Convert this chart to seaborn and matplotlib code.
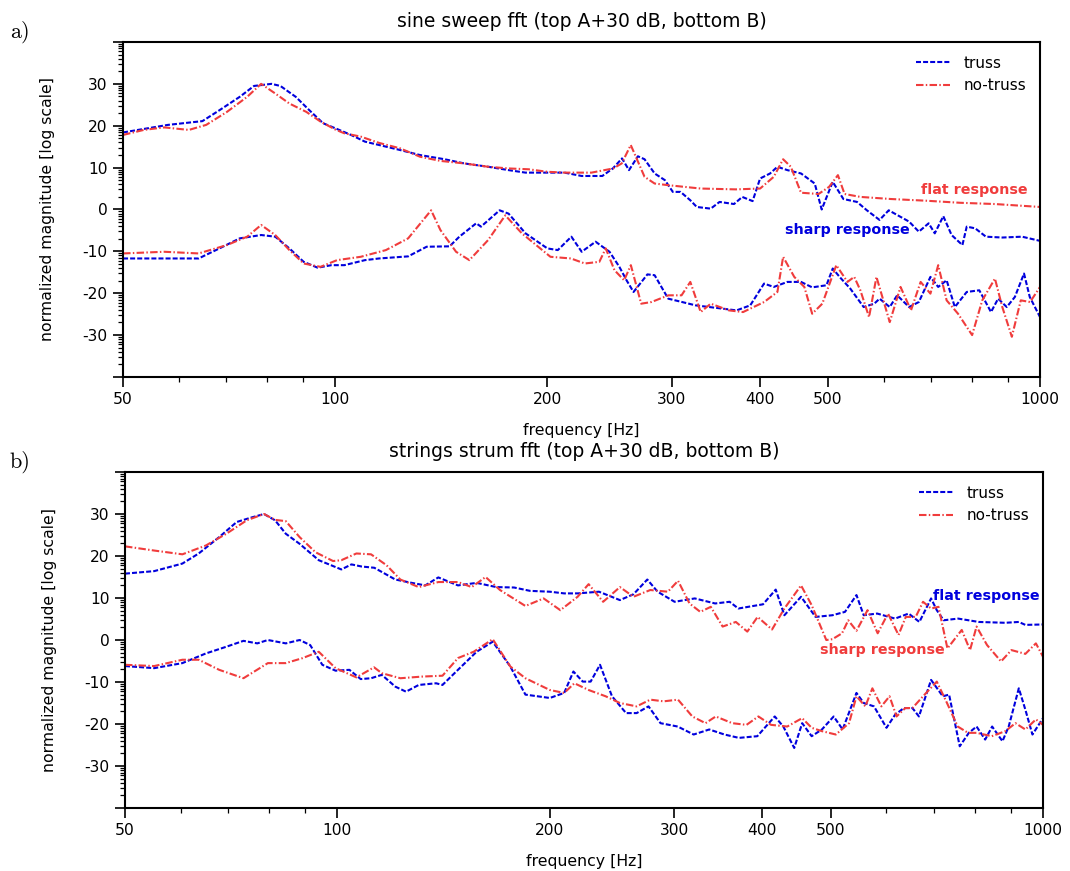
import numpy as np
import matplotlib
matplotlib.use('Agg')
import matplotlib.pyplot as plt
from matplotlib.ticker import FixedLocator, NullFormatter
import seaborn as sns

# ---- data (frequency in Hz, magnitude in dB) ----
# a) sine sweep, top curves (A + 30 dB)
a_truss_top_f = [50, 57.9, 64.8, 68.5, 73.2, 76.7, 81.2, 83.6, 87.9, 91.9, 96.1, 100, 105.3, 110.2, 115.4,
                 123.6, 131.9, 142.9, 152.4, 164.8, 176.2, 186.2, 200, 211.5, 223.7, 239.3, 247.7, 255.2,
                 261.1, 268.8, 274.7, 283.9, 293.6, 301.3, 309, 319, 325.8, 341, 351, 368, 378, 391, 400.7,
                 414, 424, 438, 458, 479, 490, 508, 526, 550, 568, 592, 610, 652, 673, 695, 709, 729, 749,
                 776, 787, 809, 838, 884, 943, 1000]
a_truss_top_db = [18.4, 20.2, 21.1, 23.7, 26.9, 29.5, 30.0, 29.5, 26.9, 23.7, 20.6, 19.4, 17.8, 16.2, 15.4,
                  14.2, 13.0, 12.0, 11.0, 10.2, 9.4, 8.8, 8.8, 8.8, 8.0, 8.0, 9.8, 12.2, 9.4, 12.7, 12.0,
                  8.6, 7.0, 4.2, 4.2, 2.2, 0.6, 0.2, 1.8, 1.3, 3.0, 2.0, 7.4, 8.6, 10.2, 9.4, 8.6, 6.2, 0.0,
                  6.6, 2.5, 1.8, -0.2, -2.5, -0.2, -2.9, -5.3, -3.3, -5.7, -1.6, -6.1, -8.5, -4.1, -4.5,
                  -6.5, -6.7, -6.5, -7.5]
a_notruss_top_f = [50, 53.5, 57.2, 62.0, 65.6, 70.2, 75.0, 78.5, 82.2, 86.1, 91.0, 95.3, 100, 103, 108.7,
                   115.4, 123.6, 131.9, 141, 152.4, 164.8, 176.2, 188, 200, 211.5, 231, 248, 255, 262.6,
                   274.7, 283.9, 296.8, 330, 370, 400.7, 419, 432, 443, 458, 485, 502, 516.7, 528, 556,
                   614, 688, 770, 863, 1000]
a_notruss_top_db = [17.8, 19.0, 19.6, 19.0, 20.2, 23.3, 26.9, 30.0, 27.7, 25.3, 23.3, 21.0, 19.1, 18.2,
                    17.4, 15.9, 14.6, 12.6, 11.6, 11.0, 10.2, 9.8, 9.6, 9.0, 8.8, 8.8, 9.8, 11.0, 15.4,
                    7.8, 6.2, 5.8, 5.0, 4.8, 5.0, 7.8, 12.0, 10.2, 4.0, 3.7, 5.4, 8.2, 3.7, 3.0, 2.5, 2.1,
                    1.6, 1.3, 0.6]
# a) sine sweep, bottom curves (B)
a_truss_bot_f = [50, 64, 68.5, 73.2, 78.5, 82.2, 86.1, 90.2, 94.4, 98.8, 103, 110.2, 115.4, 126.9, 134.8,
                 145.3, 150, 158.5, 161, 171.1, 176.2, 186.2, 200, 206.9, 216.3, 223.7, 234.1, 245, 253,
                 259, 265, 277.3, 283.9, 296.8, 310.5, 324.6, 339.5, 355.1, 371, 388, 405.9, 419, 438,
                 458, 475, 497.7, 508, 519.5, 538, 562, 581.8, 592, 612, 627, 652, 673, 699, 717, 737,
                 757, 787, 820, 852, 872, 897, 921, 949, 967, 1000]
a_truss_bot_db = [-11.7, -11.7, -9.3, -6.9, -6.1, -6.5, -9.3, -12.5, -13.9, -13.3, -13.3, -12.1, -11.7,
                  -11.2, -8.9, -8.8, -6.5, -3.3, -4.1, -0.2, -1.0, -5.7, -9.3, -9.7, -6.5, -10.1, -7.7,
                  -10.1, -13.7, -16.9, -19.7, -15.5, -15.7, -21.3, -22.1, -22.9, -23.3, -23.7, -24.1,
                  -22.9, -17.7, -18.5, -17.3, -17.3, -18.6, -18.1, -14.1, -16.1, -18.9, -23.3, -22.5,
                  -21.3, -23.3, -20.5, -23.3, -22.1, -16.1, -18.5, -16.9, -23.3, -19.7, -19.3, -24.5,
                  -21.3, -23.3, -20.9, -15.3, -20.9, -25.7]
a_notruss_bot_f = [50, 57.2, 64, 70.2, 75, 78.5, 82.2, 86.1, 90.2, 95.3, 100.6, 108.7, 118, 126.9, 136.8,
                   141, 148.4, 155, 164.8, 174.3, 184, 202, 216, 226, 237, 242, 249, 257, 262.7, 271.7,
                   281, 297, 310, 319, 330, 341, 362, 379, 406, 424, 432, 448, 463, 475, 491, 514, 533,
                   545, 556, 572, 586, 612, 634, 656, 677, 699, 717, 737, 765, 801, 828, 863, 884, 912,
                   939, 968, 1000]
a_notruss_bot_db = [-10.5, -10.1, -10.5, -8.5, -6.5, -3.7, -6.1, -9.7, -12.9, -13.7, -12.1, -11.3, -9.7,
                    -6.9, -0.2, -4.9, -10.1, -12.1, -7.3, -1.4, -5.7, -11.3, -11.7, -12.9, -12.5, -9.3,
                    -14.5, -16.9, -13.3, -22.5, -22.1, -20.5, -20.5, -17.3, -24.5, -22.5, -24.1, -24.5,
                    -22.1, -19.7, -11.3, -16.1, -18.5, -24.9, -22.5, -13.3, -17.3, -16.1, -19.3, -25.7,
                    -16.1, -26.9, -18.5, -24.1, -17.3, -20.1, -13.3, -21.7, -24.9, -30.0, -21.7, -16.5,
                    -23.3, -30.4, -21.7, -22.1, -18.5]

# b) strings strum, top curves (A + 30 dB)
b_truss_top_f = [50, 55, 60.3, 63.6, 68, 72, 75.3, 78.7, 81.6, 84.5, 88.4, 94.1, 101.3, 104.7, 108.2,
                 112.8, 120.8, 127.5, 133.2, 139, 148.2, 157.5, 168, 178, 187.5, 200, 209.6, 219.2, 234.8,
                 251.4, 262.8, 274.9, 284.3, 300.5, 321, 343, 359.6, 370, 401, 418, 430, 454, 476, 503,
                 524, 544, 557, 582, 617, 645, 668, 694, 707, 723, 758, 811, 884, 924, 944, 1000]
b_truss_top_db = [15.8, 16.4, 18.2, 20.6, 24.5, 28.1, 29.1, 30.0, 28.5, 25.3, 22.9, 19.0, 16.8, 18.0,
                  17.5, 17.2, 14.4, 13.6, 13.0, 14.9, 13.0, 13.6, 12.6, 12.5, 11.7, 11.5, 11.1, 11.1,
                  11.5, 9.5, 10.9, 14.4, 11.5, 9.1, 9.9, 8.7, 9.1, 7.5, 8.5, 12.0, 5.9, 10.3, 5.5, 5.9,
                  6.7, 10.7, 5.9, 6.3, 5.1, 6.3, 4.3, 9.9, 7.1, 4.7, 5.1, 4.3, 4.1, 4.3, 3.6, 3.7]
b_notruss_top_f = [50, 55, 60.3, 65.1, 69.6, 74.4, 78.7, 81.6, 84.5, 88.4, 93.1, 98.6, 101.3, 106.4,
                   111.6, 117.4, 122.8, 130.4, 139, 148.2, 155, 162.2, 170, 184.7, 196, 207, 219, 227,
                   238, 251.4, 262.8, 277.6, 294, 303.9, 315.5, 326.8, 338.2, 351.5, 367, 381, 394, 413,
                   430, 454, 470, 493, 503, 519, 529.6, 544, 564, 583, 603, 624, 639, 660, 676, 694, 711,
                   732, 767, 788, 805, 833, 872, 902, 944, 977, 1000]
b_notruss_top_db = [22.3, 21.3, 20.4, 22.5, 25.3, 28.5, 30.0, 28.6, 28.3, 24.5, 20.9, 18.8, 19.0, 20.6,
                    20.4, 17.8, 14.4, 12.6, 13.8, 13.8, 12.6, 15.0, 11.9, 8.1, 9.9, 7.1, 10.3, 13.3, 9.1,
                    12.6, 10.3, 11.9, 11.5, 14.1, 8.7, 6.7, 7.9, 3.2, 4.3, 2.0, 5.5, 2.5, 7.5, 13.0, 8.3,
                    0.0, 0.2, 1.6, 4.7, 2.2, 7.1, 1.6, 6.3, 1.2, 5.5, 5.5, 9.1, 7.5, 7.9, -2.0, 2.4, -2.4,
                    3.2, -1.2, -5.1, -2.4, -3.3, -0.8, -4.0]
# b) strings strum, bottom curves (B)
b_truss_bot_f = [50, 55, 60.3, 65.1, 69.6, 73.6, 77, 79.7, 84.5, 88.4, 91.5, 95.2, 99.4, 104, 107.9,
                 111.6, 115.6, 120.8, 125.1, 130.4, 138, 140.9, 148.2, 157.5, 166, 175.8, 184.7, 200,
                 209.6, 216, 222.7, 228.5, 235.6, 245, 256.5, 265.5, 276, 287, 303.6, 319.8, 336.5,
                 353.6, 370.7, 393.6, 416.7, 428.5, 444, 455.7, 470, 486, 505, 520, 544, 557, 576, 600,
                 617, 635, 653, 667, 694, 721, 736, 762, 785, 805, 828, 847, 876, 894, 924, 944, 966, 1000]
b_truss_bot_db = [-6.2, -6.7, -5.5, -3.2, -1.6, -0.2, -0.8, 0.0, -0.8, 0.0, -1.2, -5.9, -7.3, -7.1, -9.3,
                  -9.1, -8.3, -11.1, -12.3, -10.7, -10.3, -10.7, -7.1, -2.8, -0.4, -6.3, -13.0, -13.8,
                  -12.6, -7.5, -9.9, -9.9, -5.9, -13.4, -17.4, -17.4, -15.8, -19.8, -20.6, -22.5, -21.3,
                  -22.5, -23.3, -22.9, -18.2, -20.6, -25.7, -19.8, -22.9, -21.3, -18.2, -21.3, -12.6,
                  -15.0, -15.8, -20.9, -17.8, -16.2, -16.2, -18.2, -9.5, -13.4, -13.0, -25.3, -22.1,
                  -20.6, -23.7, -20.6, -24.1, -20.6, -11.5, -16.6, -22.5, -18.6]
b_notruss_bot_f = [50, 55, 60.3, 63.6, 68, 73.6, 79.7, 84.5, 89.3, 94.1, 99.4, 106.4, 112.7, 115.6,
                   122.8, 132, 140.9, 148.2, 156, 166, 175.8, 184.7, 200, 209.6, 216.7, 227, 240, 251.4,
                   265.5, 277.6, 290, 303.9, 318.4, 332.4, 343.7, 362.7, 380, 395, 411.7, 434, 455.7,
                   470, 486, 508.6, 531, 544, 560, 573, 590, 606, 620, 638, 653, 676, 707, 731, 757,
                   783, 805, 846, 884, 914, 944, 977, 1000]
b_notruss_bot_db = [-5.9, -6.2, -4.7, -4.7, -7.1, -9.1, -5.5, -5.5, -4.3, -2.8, -6.7, -8.9, -6.5, -7.9,
                    -9.1, -8.7, -8.5, -4.3, -2.8, 0.2, -6.3, -9.1, -11.9, -12.6, -10.3, -11.9, -13.4,
                    -15.0, -15.8, -14.2, -14.6, -14.2, -18.2, -19.8, -18.2, -19.8, -20.2, -18.2, -20.2,
                    -20.6, -18.6, -20.9, -21.7, -22.5, -19.8, -13.4, -15.8, -11.5, -15.8, -13.4, -18.2,
                    -16.2, -16.2, -13.4, -9.9, -15.0, -20.6, -22.1, -22.1, -22.9, -21.7, -19.8, -21.3,
                    -18.9, -20.2]

xticks_major = [50, 100, 200, 300, 400, 500, 1000]
xticks_minor = [60, 70, 80, 90, 600, 700, 800, 900]
yticks_major = [-40, -30, -20, -10, 0, 10, 20, 30, 40]

BLUE = '#0000dd'
RED = '#f03c3c'
DASH = (0, (2.4, 1.0))
DASHDOT = (0, (3.6, 1.1, 0.7, 1.1))

sns.set_style('ticks')
plt.rcParams['font.family'] = ['DejaVu Sans']
plt.rcParams['axes.unicode_minus'] = False
for key in ['text.color', 'axes.labelcolor', 'xtick.color', 'ytick.color', 'axes.edgecolor']:
    plt.rcParams[key] = 'black'


def draw_line(ax, f, db, color, ls, label=None):
    sns.lineplot(x=f, y=db, ax=ax, color=color, linestyle=ls, linewidth=1.5,
                 estimator=None, sort=False, label=label, legend=False)


def style_axes(ax, title):
    ax.set_xscale('log')
    ax.set_xlim(50, 1000)
    ax.set_ylim(-40, 40)
    ax.xaxis.set_major_locator(FixedLocator(xticks_major))
    ax.xaxis.set_minor_locator(FixedLocator(xticks_minor))
    ax.set_xticklabels([str(t) for t in xticks_major])
    ax.xaxis.set_minor_formatter(NullFormatter())
    ax.yaxis.set_major_locator(FixedLocator(yticks_major))
    ax.set_yticklabels(['' if abs(t) == 40 else str(t) for t in yticks_major])
    # log-like minor ticks inside every 10 dB step
    ymin = [b + 10 * np.log10(k) for b in range(-40, 40, 10) for k in range(2, 10)]
    ax.yaxis.set_minor_locator(FixedLocator(ymin))
    ax.tick_params(which='major', direction='out', length=7.5, width=1.2, labelsize=11.2, pad=3.5,
                   colors='black')
    ax.tick_params(which='minor', direction='out', length=3.5, width=0.9, colors='black')
    for sp in ax.spines.values():
        sp.set_visible(True)
        sp.set_linewidth(1.5)
        sp.set_color('black')
    ax.set_xlabel('frequency [Hz]', fontsize=11.3, labelpad=11, color='black')
    ax.set_ylabel('normalized magnitude [log scale]', fontsize=11.3, labelpad=20, color='black')
    ax.set_title(title, fontsize=13.5, pad=11, color='black')
    ax.grid(False)
    ax.legend(handles=ax.lines[:2], labels=['truss', 'no-truss'], loc='upper right',
              frameon=False, fontsize=11, handlelength=2.2, handletextpad=0.9)


fig = plt.figure(figsize=(10.70, 8.71), dpi=100)
ax1 = fig.add_axes([0.1150, 0.5672, 0.8570, 0.3846])
ax2 = fig.add_axes([0.1168, 0.0723, 0.8580, 0.3858])

# panel a
draw_line(ax1, a_truss_top_f, a_truss_top_db, BLUE, DASH, 'truss')
draw_line(ax1, a_notruss_top_f, a_notruss_top_db, RED, DASHDOT, 'no-truss')
draw_line(ax1, a_truss_bot_f, a_truss_bot_db, BLUE, DASH)
draw_line(ax1, a_notruss_bot_f, a_notruss_bot_db, RED, DASHDOT)
style_axes(ax1, 'sine sweep fft (top A+30 dB, bottom B)')
ax1.text(961, 4.7, 'flat response', color=RED, fontsize=10.3, fontweight='bold', ha='right', va='center')
ax1.text(653, -4.9, 'sharp response', color=BLUE, fontsize=10.3, fontweight='bold', ha='right', va='center')

# panel b
draw_line(ax2, b_truss_top_f, b_truss_top_db, BLUE, DASH, 'truss')
draw_line(ax2, b_notruss_top_f, b_notruss_top_db, RED, DASHDOT, 'no-truss')
draw_line(ax2, b_truss_bot_f, b_truss_bot_db, BLUE, DASH)
draw_line(ax2, b_notruss_bot_f, b_notruss_bot_db, RED, DASHDOT)
style_axes(ax2, 'strings strum fft (top A+30 dB, bottom B)')
ax2.text(989, 10.5, 'flat response', color=BLUE, fontsize=10.3, fontweight='bold', ha='right', va='center')
ax2.text(725, -2.4, 'sharp response', color=RED, fontsize=10.3, fontweight='bold', ha='right', va='center')

# panel letters
fig.text(0.009, 1 - 32 / 871, 'a)', fontsize=16, fontfamily='cmr10', va='center', ha='left')
fig.text(0.009, 1 - 462 / 871, 'b)', fontsize=16, fontfamily='cmr10', va='center', ha='left')

fig.savefig('out.png', dpi=100)
